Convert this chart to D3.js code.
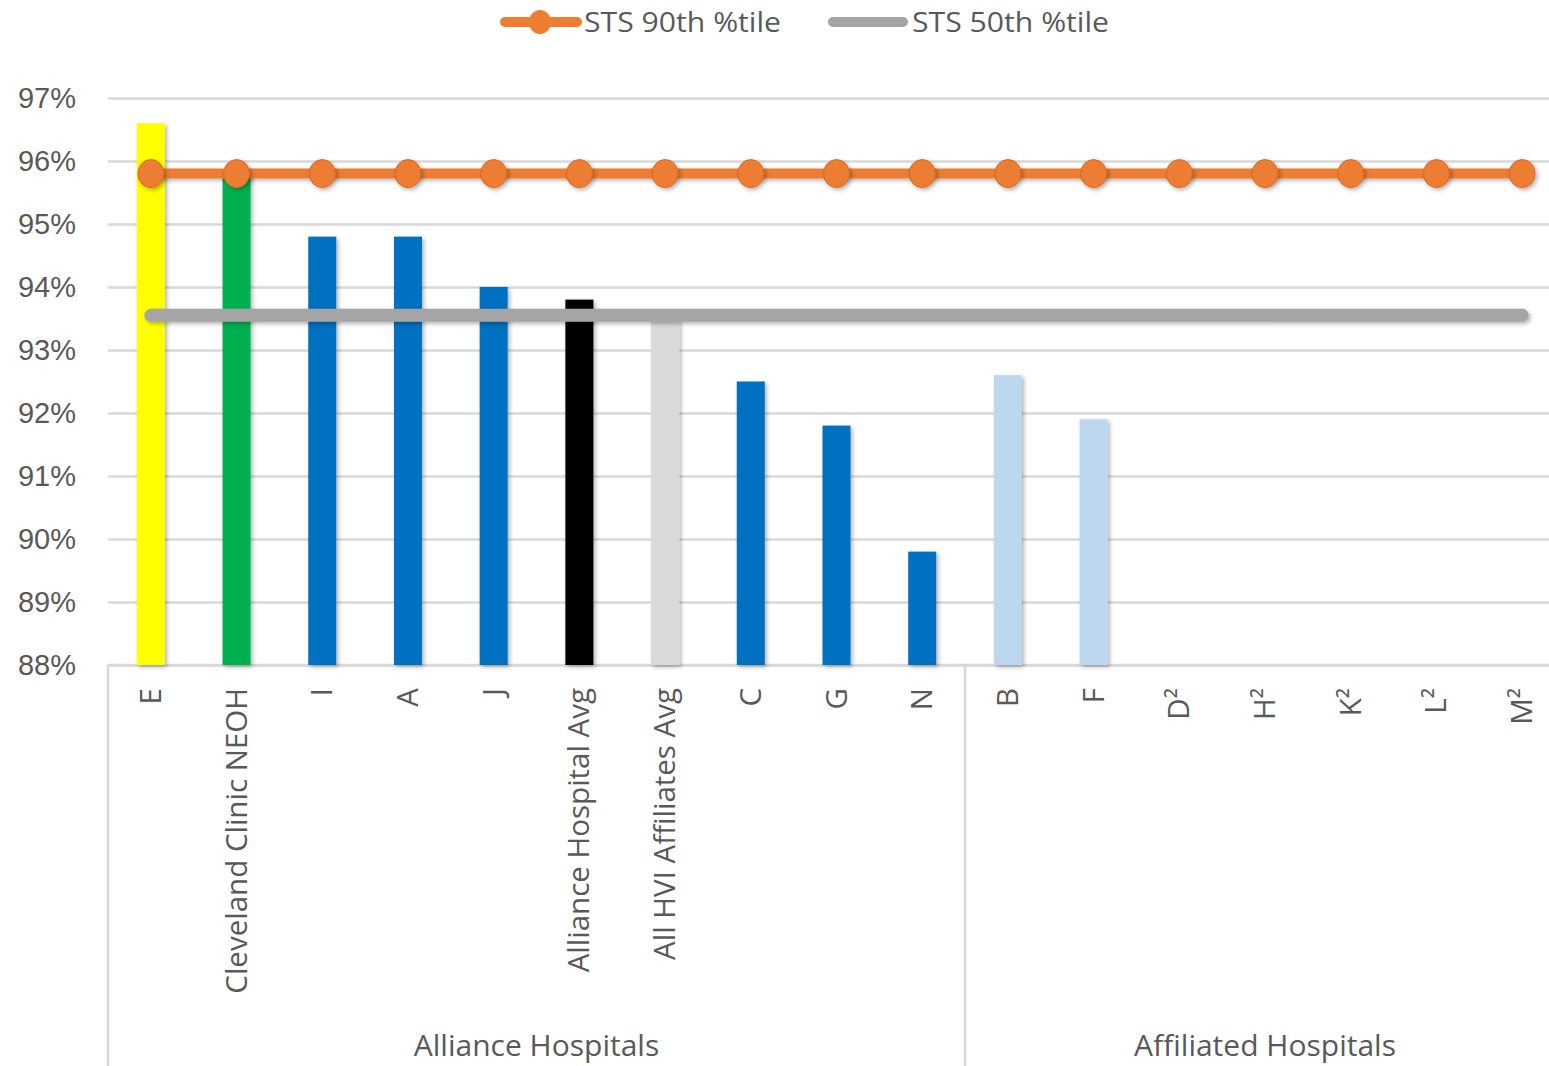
<!DOCTYPE html>
<html><head><meta charset="utf-8">
<script src="https://cdn.jsdelivr.net/npm/d3@7"></script>
<style>body{margin:0;background:#fff;}svg{display:block;font-family:"Open Sans",sans-serif;}</style>
</head><body>
<svg id="c" width="1549" height="1066"></svg>
<script>
const categories = ["E","Cleveland Clinic NEOH","I","A","J","Alliance Hospital Avg","All HVI Affiliates Avg","C","G","N","B","F","D²","H²","K²","L²","M²"];
const values = [96.6,95.8,94.8,94.8,94.0,93.8,93.5,92.5,91.8,89.8,92.6,91.9,null,null,null,null,null];
const barColors = ["#FFFF00","#00B050","#0070C0","#0070C0","#0070C0","#000000","#D9D9D9","#0070C0","#0070C0","#0070C0","#BDD7EE","#BDD7EE","#BDD7EE","#BDD7EE","#BDD7EE","#BDD7EE","#BDD7EE"];
const sts90 = [95.8,95.8,95.8,95.8,95.8,95.8,95.8,95.8,95.8,95.8,95.8,95.8,95.8,95.8,95.8,95.8,95.8];
const sts50 = [93.55,93.55,93.55,93.55,93.55,93.55,93.55,93.55,93.55,93.55,93.55,93.55,93.55,93.55,93.55,93.55,93.55];
const groups = [{name:"Alliance Hospitals", from:0, to:9},{name:"Affiliated Hospitals", from:10, to:16}];
const yTicks = [88,89,90,91,92,93,94,95,96,97];

const svg = d3.select("#c");
const defs = svg.append("defs");
const f = defs.append("filter").attr("id","sh").attr("filterUnits","userSpaceOnUse")
  .attr("x",0).attr("y",0).attr("width",1549).attr("height",1066);
f.append("feDropShadow").attr("dx",2).attr("dy",2).attr("stdDeviation",2).attr("flood-color","#000").attr("flood-opacity",0.3);

const x = d3.scaleBand().domain(categories).range([108,1565]).paddingInner(0).paddingOuter(0);
const y = d3.scaleLinear().domain([88,97]).range([665,98]);
const cx = d => x(d) + x.bandwidth()/2;
const textCol = "#595959";

// gridlines
const yAxis = d3.axisLeft(y).tickValues(yTicks).tickSize(-(1549-108)).tickFormat(d => d + "%");
const ga = svg.append("g").attr("transform","translate(108,0)").call(yAxis);
ga.select(".domain").remove();
ga.selectAll(".tick line").attr("stroke","#D9D9D9").attr("stroke-width",2.5);
ga.selectAll(".tick text").attr("x",-32).attr("fill",textCol).attr("font-size",29).attr("dy","0.34em");

// x axis line
svg.append("line").attr("x1",108).attr("x2",1549).attr("y1",y(88)).attr("y2",y(88)).attr("stroke","#D9D9D9").attr("stroke-width",2.5);

// group separators
const seps = [groups[0].from, groups[1].from];
svg.selectAll(".sep").data(seps).enter().append("line")
  .attr("x1",d=>x(categories[d])).attr("x2",d=>x(categories[d]))
  .attr("y1",y(88)).attr("y2",1066).attr("stroke","#D9D9D9").attr("stroke-width",2.5);

// bars
const bw = 28;
const barData = categories.map((c,i)=>({c, v:values[i], col:barColors[i]})).filter(d=>d.v!=null);
svg.append("g").selectAll("rect").data(barData).enter().append("rect")
  .attr("x",d=>cx(d.c)-bw/2).attr("width",bw)
  .attr("y",d=>y(d.v)).attr("height",d=>y(88)-y(d.v))
  .attr("fill",d=>d.col).attr("filter","url(#sh)");

// STS 50 line
const line = d3.line().x(d=>cx(d.c)).y(d=>y(d.v));
const d50 = categories.map((c,i)=>({c,v:sts50[i]}));
svg.append("path").datum(d50).attr("d",line).attr("fill","none")
  .attr("stroke","#A5A5A5").attr("stroke-width",13).attr("stroke-linecap","round").attr("filter","url(#sh)");

// STS 90 line
const d90 = categories.map((c,i)=>({c,v:sts90[i]}));
svg.append("path").datum(d90).attr("d",line).attr("fill","none")
  .attr("stroke","#ED7D31").attr("stroke-width",10).attr("filter","url(#sh)");
svg.append("g").selectAll("ellipse").data(d90).enter().append("ellipse")
  .attr("cx",d=>cx(d.c)).attr("cy",d=>y(d.v)).attr("rx",13).attr("ry",14)
  .attr("fill","#ED7D31").attr("stroke","#D9691F").attr("stroke-width",1).attr("filter","url(#sh)");

// category labels
svg.append("g").selectAll("text").data(categories).enter().append("text")
  .attr("transform",d=>`translate(${cx(d)+10},688) rotate(-90)`)
  .attr("text-anchor","end").attr("fill",textCol).attr("font-size",29.5)
  .text(d=>d);

// group labels
svg.append("g").selectAll("text").data(groups).enter().append("text")
  .attr("x",d=>(x(categories[d.from]) + x(categories[d.to]) + x.bandwidth())/2)
  .attr("y",1056).attr("text-anchor","middle").attr("fill",textCol).attr("font-size",30)
  .text(d=>d.name);

// legend
const lg = svg.append("g");
lg.append("line").attr("x1",505).attr("x2",577).attr("y1",22).attr("y2",22).attr("stroke","#ED7D31").attr("stroke-width",10).attr("stroke-linecap","round");
lg.append("ellipse").attr("cx",540).attr("cy",22).attr("rx",11).attr("ry",12).attr("fill","#ED7D31");
lg.append("text").attr("x",584).attr("y",32).attr("fill",textCol).attr("font-size",28).attr("textLength",197).attr("lengthAdjust","spacingAndGlyphs").text("STS 90th %tile");
lg.append("line").attr("x1",833).attr("x2",903).attr("y1",22).attr("y2",22).attr("stroke","#A5A5A5").attr("stroke-width",10).attr("stroke-linecap","round");
lg.append("text").attr("x",912).attr("y",32).attr("fill",textCol).attr("font-size",28).attr("textLength",197).attr("lengthAdjust","spacingAndGlyphs").text("STS 50th %tile");
</script>
</body></html>
